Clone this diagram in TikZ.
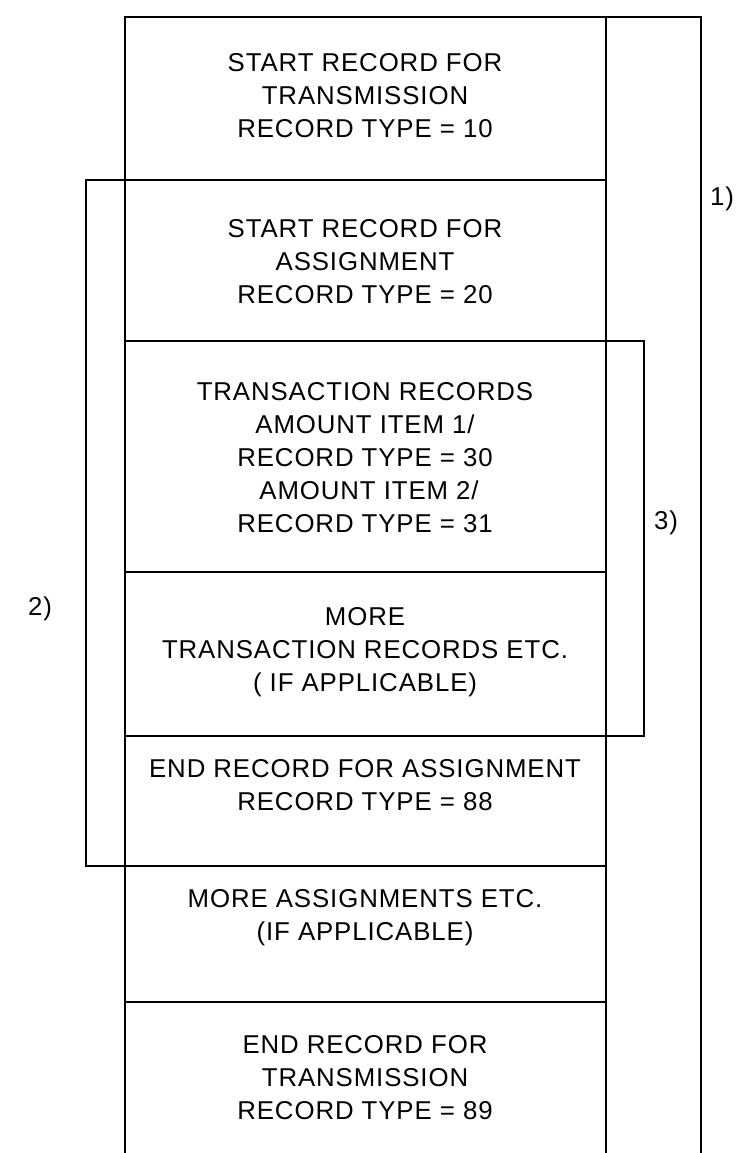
\documentclass[tikz,border=0pt]{standalone}
\usepackage{fontspec}
\setmainfont{Liberation Sans}[LetterSpace=3.5]
\begin{document}
\begin{tikzpicture}[x=1pt,y=-1pt,
  frame/.style={line width=1.8pt, line cap=rect},
  rec/.style={align=center, inner sep=0pt, font=\fontsize{25.8}{33}\selectfont},
  lbl/.style={inner sep=0pt, font=\fontsize{25.8}{33}\selectfont}]
\useasboundingbox (0,0) rectangle (738,1153);
% coordinates
\coordinate (TL) at (125,17);
\coordinate (TR) at (606,17);
\coordinate (TO) at (701,17);
\coordinate (BL) at (125,1153);
\coordinate (BR) at (606,1153);
\coordinate (BO) at (701,1153);
% main frame
\draw[frame] (BL) -- (TL) -- (TO) -- (BO);
\draw[frame] (TR) -- (BR);
% dividers
\draw[frame] (86,180) -- (606,180);
\draw[frame] (125,341) -- (644,341);
\draw[frame] (125,572) -- (606,572);
\draw[frame] (125,736) -- (644,736);
\draw[frame] (86,866) -- (606,866);
\draw[frame] (125,1002) -- (606,1002);
% brackets
\draw[frame] (86,180) -- (86,866);
\draw[frame] (644,341) -- (644,736);
% texts
\node[rec] (r10) at (365,96) {START RECORD FOR\\TRANSMISSION\\RECORD TYPE = 10};
\node[rec] (r20) at (365,262) {START RECORD FOR\\ASSIGNMENT\\RECORD TYPE = 20};
\node[rec] (r30) at (365,458) {TRANSACTION RECORDS\\AMOUNT ITEM 1/\\RECORD TYPE = 30\\\ AMOUNT ITEM 2/\\RECORD TYPE = 31};
\node[rec] (rmore) at (365,652) {MORE\\TRANSACTION RECORDS ETC.\\( IF APPLICABLE)};
\node[rec] (r88) at (365,785) {END RECORD FOR ASSIGNMENT\\RECORD TYPE = 88};
\node[rec] (rass) at (365,918) {MORE ASSIGNMENTS ETC.\\(IF APPLICABLE)};
\node[rec] (r89) at (365,1078) {END RECORD FOR\\TRANSMISSION\\RECORD TYPE = 89};
\node[lbl] (l1) at (722,199) {1)};
\node[lbl] (l2) at (40,609) {2)};
\node[lbl] (l3) at (666,523) {3)};
\end{tikzpicture}
\end{document}
